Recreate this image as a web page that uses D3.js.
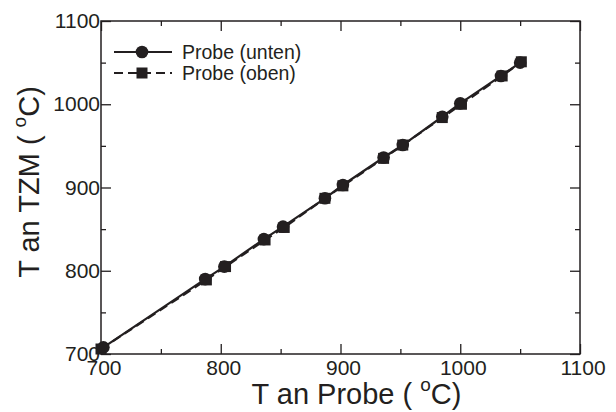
<!DOCTYPE html>
<html>
<head>
<meta charset="utf-8">
<script src="https://cdn.jsdelivr.net/npm/d3@7"></script>
<style>
  body { margin: 0; background: #fff; }
  svg { display: block; font-family: "Liberation Sans", Arial, sans-serif; }
</style>
</head>
<body>
<svg id="chart"></svg>
<script>
const W = 616, H = 412;
const margin = { top: 21, right: 36, bottom: 58, left: 101 };

// data
const xUnten = [702, 787, 803, 836, 852, 887, 902, 936, 952, 985, 1000, 1034, 1050];
const yUnten = [708, 790, 805, 838, 853, 887, 903, 936, 951, 985, 1001, 1034, 1050];
const xOben = [700, 788, 804, 837, 853, 887, 902, 936, 952, 985, 1001, 1035, 1051];
const yOben = [706, 789, 805, 837, 852, 887, 902, 935, 951, 984, 1000, 1034, 1051];
const seriesNames = ["Probe (unten)", "Probe (oben)"];
const xTicks = [700, 800, 900, 1000, 1100];
const yTicks = [700, 800, 900, 1000, 1100];
const minorTicks = [750, 850, 950, 1050];

const width = W - margin.left - margin.right;
const height = H - margin.top - margin.bottom;

const svg = d3.select("#chart").attr("width", W).attr("height", H);
const g = svg.append("g").attr("transform", `translate(${margin.left},${margin.top})`);

const x = d3.scaleLinear().domain([700, 1100]).range([0, width]);
const y = d3.scaleLinear().domain([700, 1100]).range([height, 0]);

const axisColor = "#231f20";

// ticks inside on all four sides
function drawTicks(sel, axisFn, scale, vals, len) {
    sel.call(axisFn(scale).tickValues(vals).tickSize(len).tickFormat(""))
        .call(s => s.select(".domain").remove())
        .selectAll("line").attr("stroke", axisColor).attr("stroke-width", 1.3);
}
drawTicks(g.append("g").attr("transform", `translate(0,${height})`), d3.axisTop, x, xTicks, 10);
drawTicks(g.append("g").attr("transform", `translate(0,${height})`), d3.axisTop, x, minorTicks, 5);
drawTicks(g.append("g"), d3.axisBottom, x, xTicks, 10);
drawTicks(g.append("g"), d3.axisBottom, x, minorTicks, 5);
drawTicks(g.append("g"), d3.axisRight, y, yTicks, 10);
drawTicks(g.append("g"), d3.axisRight, y, minorTicks, 5);
drawTicks(g.append("g").attr("transform", `translate(${width},0)`), d3.axisLeft, y, yTicks, 10);
drawTicks(g.append("g").attr("transform", `translate(${width},0)`), d3.axisLeft, y, minorTicks, 5);

g.append("rect")
    .attr("width", width).attr("height", height)
    .attr("fill", "none").attr("stroke", axisColor).attr("stroke-width", 1.5);

// tick labels
g.selectAll(".xl").data(xTicks).enter().append("text")
    .attr("x", d => x(d) + 3).attr("y", height + 21)
    .attr("text-anchor", "middle").attr("font-size", 21).attr("fill", axisColor)
    .text(d => d);
g.selectAll(".yl").data(yTicks).enter().append("text")
    .attr("x", -1).attr("y", d => y(d) + 7)
    .attr("text-anchor", "end").attr("font-size", 21).attr("fill", axisColor)
    .text(d => d);

// axis titles
const xt = svg.append("text")
    .attr("x", margin.left + width / 2 + 16).attr("y", 404)
    .attr("text-anchor", "middle").attr("font-size", 29).attr("fill", axisColor);
xt.append("tspan").text("T an Probe ( ");
xt.append("tspan").attr("dy", -13).attr("font-size", 19).text("o");
xt.append("tspan").attr("dy", 13).text("C)");

const yt = svg.append("text")
    .attr("transform", `translate(39,182) rotate(-90)`)
    .attr("text-anchor", "middle").attr("font-size", 29).attr("fill", axisColor);
yt.append("tspan").text("T an TZM ( ");
yt.append("tspan").attr("dy", -13).attr("font-size", 19).text("o");
yt.append("tspan").attr("dy", 13).text("C)");

// series
const unten = xUnten.map((v, i) => [v, yUnten[i]]);
const oben = xOben.map((v, i) => [v, yOben[i]]);
const line = d3.line().x(d => x(d[0])).y(d => y(d[1]));

g.append("path").datum(oben).attr("d", line)
    .attr("fill", "none").attr("stroke", axisColor).attr("stroke-width", 2.2)
    .attr("stroke-dasharray", "9,5");
g.append("path").datum(unten).attr("d", line)
    .attr("fill", "none").attr("stroke", axisColor).attr("stroke-width", 2.2);

g.selectAll(".sq").data(oben).enter().append("rect")
    .attr("x", d => x(d[0]) - 5.5).attr("y", d => y(d[1]) - 5.5)
    .attr("width", 11).attr("height", 11).attr("fill", axisColor);
g.selectAll(".ci").data(unten).enter().append("circle")
    .attr("cx", d => x(d[0])).attr("cy", d => y(d[1])).attr("r", 6.3)
    .attr("fill", axisColor);

// legend
const leg = svg.append("g").attr("transform", "translate(114,52)");
seriesNames.forEach((name, i) => {
    const row = leg.append("g").attr("transform", `translate(0,${i * 21})`);
    row.append("line").attr("x1", 0).attr("x2", 58).attr("y1", 0).attr("y2", 0)
        .attr("stroke", axisColor).attr("stroke-width", 2)
        .attr("stroke-dasharray", i === 1 ? "9,5" : null);
    if (i === 0) row.append("circle").attr("cx", 28).attr("cy", 0).attr("r", 6.3).attr("fill", axisColor);
    else row.append("rect").attr("x", 22.5).attr("y", -5.5).attr("width", 11).attr("height", 11).attr("fill", axisColor);
    row.append("text").attr("x", 68).attr("y", 7).attr("font-size", 19.5).attr("fill", axisColor).text(name);
});
</script>
</body>
</html>
